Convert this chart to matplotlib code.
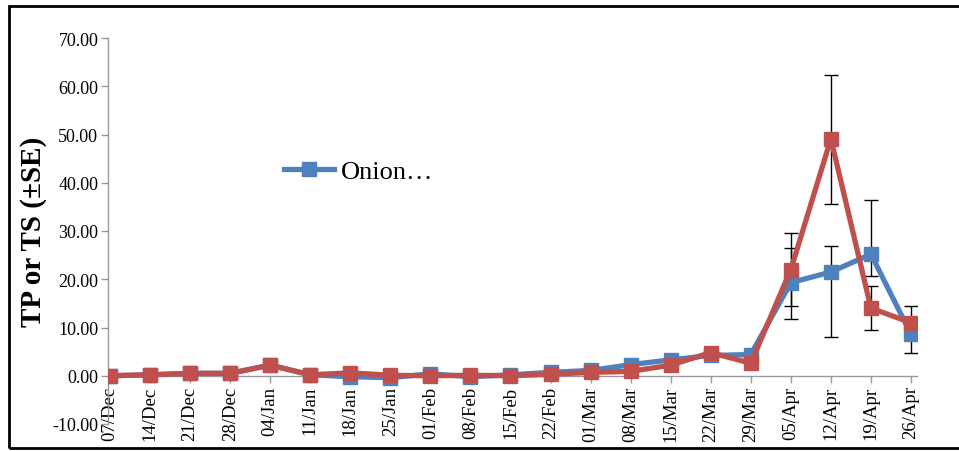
import numpy as np
import matplotlib.pyplot as plt
from matplotlib.patches import Rectangle

# Weekly sampling dates
dates = ['07/Dec', '14/Dec', '21/Dec', '28/Dec', '04/Jan', '11/Jan', '18/Jan',
         '25/Jan', '01/Feb', '08/Feb', '15/Feb', '22/Feb', '01/Mar', '08/Mar',
         '15/Mar', '22/Mar', '29/Mar', '05/Apr', '12/Apr', '19/Apr', '26/Apr']

# Series values
blue_vals = [0.0, 0.2, 0.5, 0.5, 2.2, 0.2, -0.2, -0.4, 0.4, -0.2, 0.2, 0.7,
             1.1, 2.3, 3.3, 4.2, 4.4, 19.3, 21.5, 25.2, 8.6]
red_vals = [0.0, 0.2, 0.5, 0.5, 2.2, 0.2, 0.6, 0.1, 0.0, 0.1, 0.0, 0.3,
            0.7, 0.9, 2.2, 4.8, 2.6, 22.0, 49.1, 14.0, 11.0]

# error bar ends (lower, upper) at the last four dates
err_idx = [17, 18, 19, 20]
blue_lo = [11.7, 8.0, 20.6, 4.8]
blue_hi = [26.4, 26.8, 36.4, 12.2]
red_lo = [14.4, 35.6, 9.5, 7.8]
red_hi = [29.5, 62.3, 18.6, 14.4]

blue = '#4F81BD'
red = '#C0504D'

fig = plt.figure(figsize=(9.59, 4.52), dpi=100)
ax = fig.add_axes([108 / 959, 1 - 425 / 452, (917 - 108) / 959, (425 - 39) / 452])

x = np.arange(len(dates))

# error bars first so the markers sit on top
for vals, lo, hi in [(blue_vals, blue_lo, blue_hi), (red_vals, red_lo, red_hi)]:
    v = np.array([vals[i] for i in err_idx])
    yerr = [v - np.array(lo), np.array(hi) - v]
    ax.errorbar(err_idx, v, yerr=yerr, fmt='none', ecolor='black',
                elinewidth=1.0, capsize=5, capthick=1.0, zorder=2)

ax.plot(x, blue_vals, color=blue, lw=3.8, marker='s', ms=10,
        label='Onion…', zorder=3)
ax.plot(x, red_vals, color=red, lw=3.8, marker='s', ms=10, zorder=4)

# spine position first: moving it resets the ticks
ax.spines['top'].set_visible(False)
ax.spines['right'].set_visible(False)
ax.spines['bottom'].set_position(('data', 0))
for s in ['left', 'bottom']:
    ax.spines[s].set_color('#9a9a9a')
    ax.spines[s].set_linewidth(1.0)

ax.set_xlim(-0.05, 20.15)
ax.set_ylim(-10, 70)
yt = np.arange(-10, 71, 10)
ax.set_yticks(yt)
ax.set_yticklabels([f'{v:.2f}' for v in yt], family='Liberation Serif', fontsize=13)
ax.set_xticks(x)
ax.set_xticklabels(dates, rotation=90, family='Liberation Serif', fontsize=13.5)
ax.tick_params(axis='both', colors='#9a9a9a', labelcolor='black',
               direction='out', length=5, width=1.0, pad=2)

ax.set_ylabel('TP or TS (±SE)', family='Liberation Serif', fontweight='bold',
              fontsize=21, labelpad=4)

ax.legend(loc='center left', bbox_to_anchor=(0.188, 0.655), frameon=False,
          prop={'family': 'Liberation Serif', 'size': 19},
          handlelength=1.9, handletextpad=0.25)

# outer frame of the picture
fig.patches.append(Rectangle((9 / 959, 3 / 452), 1.2, 1 - 10 / 452,
                             transform=fig.transFigure, fill=False,
                             edgecolor='black', lw=2, clip_on=False))

fig.savefig('out.png', dpi=100)
